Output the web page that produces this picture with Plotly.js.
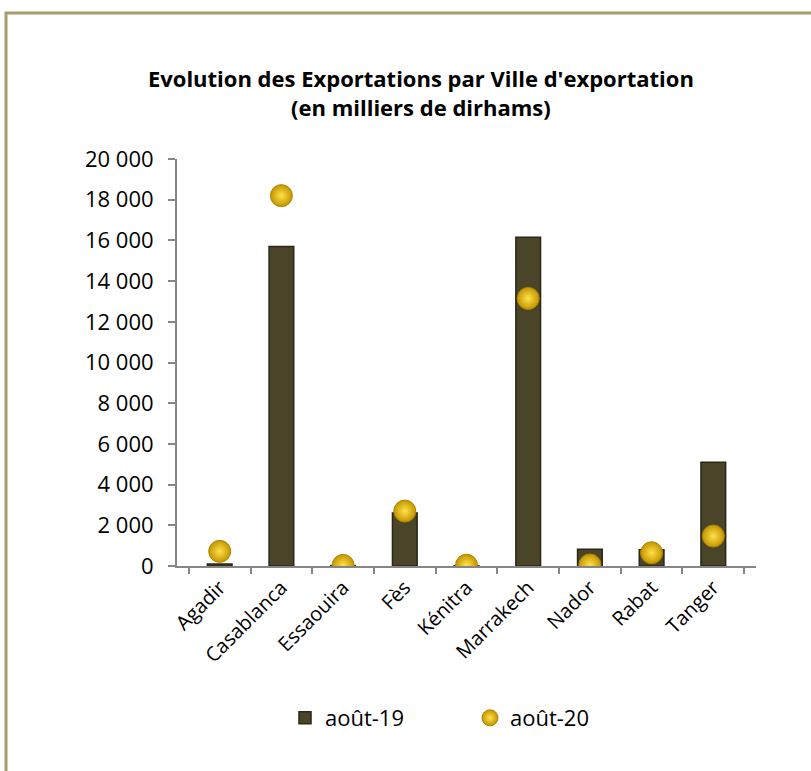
<!DOCTYPE html>
<html>
<head>
<meta charset="utf-8">
<script src="https://cdn.plot.ly/plotly-3.0.1.min.js"></script>
<style>html,body{margin:0;padding:0;background:#fff;} #chart{width:811px;height:771px;}</style>
</head>
<body>
<div id="chart"></div>
<script>
const villes = ["Agadir","Casablanca","Essaouira","Fès","Kénitra","Marrakech","Nador","Rabat","Tanger"];
const aout19 = [100, 15700, 20, 2600, 10, 16150, 820, 800, 5100];
const aout20 = [720, 18200, 30, 2700, 40, 13150, 50, 650, 1470];
const yTicks = [0,2000,4000,6000,8000,10000,12000,14000,16000,18000,20000];

const font = "Open Sans, Liberation Sans, sans-serif";
const L = 177, R = 55, T = 159, B = 205;
const pw = 811 - L - R, ph = 771 - T - B;
const px = v => (v - L) / pw;
const py = v => (771 - B - v) / ph;

const traces = [
  {
    type: "bar", name: "août-19", x: villes, y: aout19, width: 0.4,
    marker: {color: "#4A4429", line: {color: "#2A2716", width: 1.5}}
  },
  {
    type: "scatter", mode: "markers", name: "août-20", x: villes, y: aout20,
    marker: {size: 22, color: "#C49500", gradient: {type: "radial", color: "#FFE24A"},
             line: {color: "#B08600", width: 1}}
  }
];

const layout = {
  width: 811, height: 771,
  margin: {l: L, r: R, t: T, b: B},
  paper_bgcolor: "#ffffff", plot_bgcolor: "#ffffff",
  font: {family: font, size: 21, color: "#000"},
  separators: ", ",
  title: {
    text: "<b>Evolution des Exportations par Ville d'exportation</b><br><b>(en milliers de dirhams)</b>",
    font: {family: font, size: 22, color: "#000"},
    x: 0.519, xanchor: "center", y: 0.887, yanchor: "middle"
  },
  xaxis: {
    type: "category", showline: true, linecolor: "#868686", linewidth: 2,
    ticks: "outside", tickson: "boundaries", ticklen: 6, tickcolor: "#868686", tickwidth: 2,
    tickangle: -45, showgrid: false, zeroline: false,
    tickfont: {family: font, size: 20, color: "#000"}
  },
  yaxis: {
    range: [0, 20000], tickvals: yTicks, tickformat: ",d",
    showline: true, linecolor: "#868686", linewidth: 2,
    ticks: "outside", ticklen: 7, tickcolor: "#868686", tickwidth: 2,
    ticklabelstandoff: 10,
    showgrid: false, zeroline: false,
    tickfont: {family: font, size: 22, color: "#000"}
  },
  showlegend: true,
  legend: {
    orientation: "h", x: px(285), xanchor: "left", y: py(718), yanchor: "middle",
    font: {family: font, size: 22, color: "#000"}, entrywidth: 140, traceorder: "normal"
  },
  shapes: [
    {type: "path", xref: "paper", yref: "paper",
     path: `M ${px(6)} ${py(800)} L ${px(6)} ${py(13)} L ${px(830)} ${py(13)}`,
     line: {color: "#A89D68", width: 3}}
  ],
  bargap: 0.6
};

Plotly.newPlot("chart", traces, layout, {displayModeBar: false, staticPlot: true});
</script>
</body>
</html>
